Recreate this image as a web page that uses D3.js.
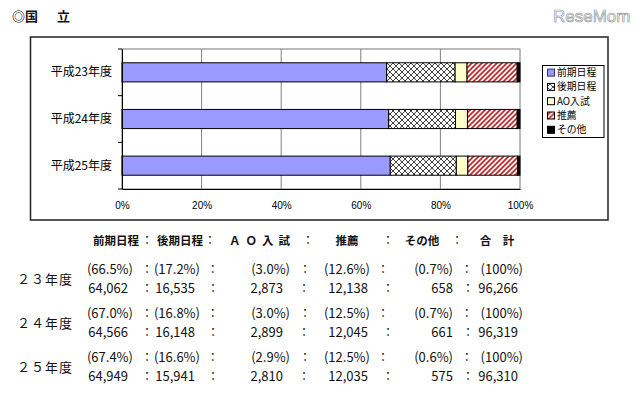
<!DOCTYPE html>
<html><head><meta charset="utf-8">
<script src="https://cdn.jsdelivr.net/npm/d3@7"></script>
<style>
html,body{margin:0;padding:0;background:#fff;}
svg{display:block;}
</style></head>
<body>
<svg id="c" width="640" height="395"></svg>
<script>
// ---------- data ----------
const categories = ["平成23年度", "平成24年度", "平成25年度"];
const seriesNames = ["前期日程", "後期日程", "AO入試", "推薦", "その他"];
const zenkiPct  = [66.5, 67.0, 67.4];
const koukiPct  = [17.2, 16.8, 16.6];
const aoPct     = [3.0, 3.0, 2.9];
const suisenPct = [12.6, 12.5, 12.5];
const otherPct  = [0.7, 0.7, 0.6];
const xTicks = [0, 20, 40, 60, 80, 100];

const tableYears   = ["２３年度", "２４年度", "２５年度"];
const tableHeaders = ["前期日程", "後期日程", "ＡＯ入試", "推薦", "その他", "合　計"];
const tablePct = [
  [66.5, 17.2, 3.0, 12.6, 0.7, 100],
  [67.0, 16.8, 3.0, 12.5, 0.7, 100],
  [67.4, 16.6, 2.9, 12.5, 0.6, 100]
];
const tableCounts = [
  [64062, 16535, 2873, 12138, 658, 96266],
  [64566, 16148, 2899, 12045, 661, 96319],
  [64949, 15941, 2810, 12035, 575, 96310]
];

// ---------- setup ----------
const svg = d3.select("#c");
const JP = "'Noto Sans CJK JP','Noto Sans',sans-serif";
svg.append("rect").attr("width", 640).attr("height", 395).attr("fill", "#fff");

const defs = svg.append("defs");
const hatch = defs.append("pattern").attr("id", "cross").attr("patternUnits", "userSpaceOnUse")
  .attr("width", 6).attr("height", 6);
hatch.append("rect").attr("width", 6).attr("height", 6).attr("fill", "#fff");
hatch.append("path").attr("d", "M0,0L6,6M0,6L6,0").attr("stroke", "#111").attr("stroke-width", 0.8);
const stripe = defs.append("pattern").attr("id", "stripe").attr("patternUnits", "userSpaceOnUse")
  .attr("width", 5).attr("height", 5);
stripe.append("rect").attr("width", 5).attr("height", 5).attr("fill", "#fff");
stripe.append("path").attr("d", "M-1,1L1,-1M0,5L5,0M4,6L6,4").attr("stroke", "#c8282d").attr("stroke-width", 1.8);

const fills = ["#9999ff", "url(#cross)", "#ffffcc", "url(#stripe)", "#000"];

// title
svg.append("text").attr("x", 12).attr("y", 21).attr("font-family", JP).attr("font-size", 13)
  .attr("font-weight", "bold").attr("fill", "#111")
  .text("◎国").append("tspan").attr("x", 57).text("立");

// watermark
svg.append("text").attr("x", 553).attr("y", 22).attr("font-family", "'Liberation Sans',Arial,sans-serif")
  .attr("font-size", 17).attr("fill", "#fff").attr("stroke", "#9a9a9a").attr("stroke-width", 0.7)
  .text("ReseMom");

// outer chart box
svg.append("rect").attr("x", 30.5).attr("y", 37).attr("width", 577.5).attr("height", 183)
  .attr("fill", "none").attr("stroke", "#222").attr("stroke-width", 1.5);

// ---------- scales ----------
const x = d3.scaleLinear().domain([0, 100]).range([122, 520]);
const y = d3.scaleBand().domain(categories).range([49, 189]).paddingInner(0.59).paddingOuter(0.295);

// plot area border + gridlines
svg.append("rect").attr("x", x(0)).attr("y", 49).attr("width", x(100) - x(0)).attr("height", 140)
  .attr("fill", "none").attr("stroke", "#777").attr("stroke-width", 1);
svg.append("g").selectAll("line").data(xTicks.filter(d => d > 0 && d < 100)).join("line")
  .attr("x1", d => x(d)).attr("x2", d => x(d)).attr("y1", 49).attr("y2", 189)
  .attr("stroke", "#808080").attr("stroke-width", 1);

// bars
const rows = categories.map((c, i) => ({
  cat: c, s0: zenkiPct[i], s1: koukiPct[i], s2: aoPct[i], s3: suisenPct[i], s4: otherPct[i]
}));
const stack = d3.stack().keys(["s0", "s1", "s2", "s3", "s4"])(rows);
svg.append("g").selectAll("g").data(stack).join("g")
  .attr("fill", (d, i) => fills[i])
  .selectAll("rect").data(d => d).join("rect")
  .attr("x", d => x(d[0])).attr("width", d => x(d[1]) - x(d[0]))
  .attr("y", d => y(d.data.cat)).attr("height", y.bandwidth())
  .attr("stroke", "#000").attr("stroke-width", 1);

// x axis
const xAxis = svg.append("g").attr("transform", "translate(0,189)")
  .call(d3.axisBottom(x).tickValues(xTicks).tickFormat(d => d + "%").tickSize(0).tickPadding(13));
xAxis.select(".domain").attr("stroke", "#000");
xAxis.selectAll("text").attr("font-family", "'Liberation Sans',Arial,sans-serif").attr("font-size", 10).attr("fill", "#000");

// y axis
const yAxis = svg.append("g").attr("transform", `translate(${x(0)},0)`)
  .call(d3.axisLeft(y).tickSize(0).tickPadding(10));
yAxis.select(".domain").attr("stroke", "#000");
yAxis.selectAll("text").attr("font-family", JP).attr("font-size", 12).attr("fill", "#000");
const bounds = d3.range(categories.length + 1).map(i => y.range()[0] + i * y.step());
svg.append("g").selectAll("line").data(bounds).join("line")
  .attr("x1", x(0) - 4).attr("x2", x(0)).attr("y1", d => d).attr("y2", d => d)
  .attr("stroke", "#000");

// legend
const lg = svg.append("g");
lg.append("rect").attr("x", 542.5).attr("y", 65.5).attr("width", 61.5).attr("height", 72)
  .attr("fill", "#fff").attr("stroke", "#000");
const li = lg.selectAll("g.li").data(seriesNames).join("g").attr("class", "li")
  .attr("transform", (d, i) => `translate(547,${72.6 + i * 14.3})`);
li.append("rect").attr("x", 0.5).attr("y", -3.5).attr("width", 7).attr("height", 7)
  .attr("fill", (d, i) => fills[i]).attr("stroke", (d, i) => i === 0 ? "#333366" : "#000").attr("stroke-width", 1);
li.append("text").attr("x", 10).attr("y", 0).attr("dy", "0.36em")
  .attr("font-family", JP).attr("font-size", 9.8).attr("fill", "#000").text(d => d);

// ---------- table ----------
const tbl = svg.append("g").attr("font-family", JP).attr("fill", "#111");
const hdrCenters = [116, 180, 262, 347, 422, 497];
const hdrSpacing = [0, 0, 5, 0, 0, 0];
const hdrColons = [147, 210, 308, 388, 457];
const pctRight = [133, 200, 290, 370, 453, 523];
const pctColons = [147, 212.7, 305, 383, 466.7];
const numRight = [128, 195, 283, 368, 453, 518];
const numColons = [147, 213, 304, 388, 468];
const pctY0 = 273.5, rowStep = 44, numDy = 19.6;

tbl.selectAll("text.h").data(tableHeaders).join("text").attr("class", "h")
  .attr("x", (d, i) => hdrCenters[i]).attr("y", 244.5).attr("text-anchor", "middle")
  .attr("letter-spacing", (d, i) => hdrSpacing[i])
  .attr("font-size", 11.5).attr("font-weight", "bold").text(d => d);
tbl.selectAll("text.hc").data(hdrColons).join("text").attr("class", "hc")
  .attr("x", d => d).attr("y", 244.5).attr("text-anchor", "middle").attr("font-size", 12).text("：");

const fmtPct = v => "(" + (v === 100 ? "100" : d3.format(".1f")(v)) + "%)";
const fmtNum = d3.format(",");

tableYears.forEach((yr, r) => {
  const py = pctY0 + r * rowStep;
  const ny = py + numDy;
  tbl.append("text").attr("x", 17).attr("y", py + 10).attr("font-size", 13).attr("letter-spacing", 1).text(yr);
  tbl.append("g").selectAll("text").data(tablePct[r]).join("text")
    .attr("x", (d, i) => pctRight[i]).attr("y", py).attr("text-anchor", "end").attr("font-size", 13)
    .text(fmtPct);
  tbl.append("g").selectAll("text").data(pctColons).join("text")
    .attr("x", d => d).attr("y", py).attr("text-anchor", "middle").attr("font-size", 12).text("：");
  tbl.append("g").selectAll("text").data(tableCounts[r]).join("text")
    .attr("x", (d, i) => numRight[i]).attr("y", ny).attr("text-anchor", "end").attr("font-size", 13)
    .text(fmtNum);
  tbl.append("g").selectAll("text").data(numColons).join("text")
    .attr("x", d => d).attr("y", ny).attr("text-anchor", "middle").attr("font-size", 12).text("：");
});
</script>
</body></html>
